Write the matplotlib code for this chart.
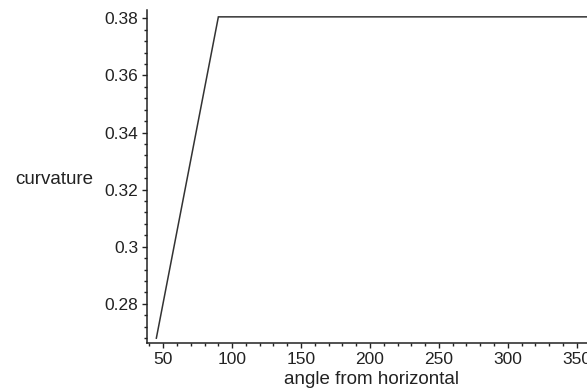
import numpy as np
import matplotlib
matplotlib.use('Agg')
import matplotlib.pyplot as plt
from matplotlib.ticker import MultipleLocator, FuncFormatter

# curvature vs. angle from horizontal
angle = [45, 90, 360]
curvature = [0.268, 0.3805, 0.3805]

x_ticks = [50, 100, 150, 200, 250, 300, 350]
y_ticks = [0.28, 0.30, 0.32, 0.34, 0.36, 0.38]

plt.rcParams['font.family'] = 'Liberation Sans'
W, H = 587, 389
fig = plt.figure(figsize=(W / 100, H / 100), dpi=100)

# axes box in pixel units (right end runs past the figure edge)
left, right, bottom, top = 146.7, 590.5, 343.3, 10.0
ax = fig.add_axes([left / W, 1 - bottom / H, (right - left) / W, (bottom - top) / H])

ax.plot(angle, curvature, color='#333333', lw=1.1, solid_joinstyle='miter')

ax.set_xlim(38, 360)
ax.set_ylim(0.2662, 0.3829)

for s in ('top', 'right'):
    ax.spines[s].set_visible(False)
for s in ('left', 'bottom'):
    ax.spines[s].set_color('#222222')
    ax.spines[s].set_linewidth(1.1)

ax.set_xticks(x_ticks)
ax.set_yticks(y_ticks)
ax.xaxis.set_minor_locator(MultipleLocator(10))
ax.yaxis.set_minor_locator(MultipleLocator(0.004))
ax.yaxis.set_major_formatter(FuncFormatter(lambda v, p: '%g' % round(v, 3)))
ax.tick_params(which='major', length=3.5, width=1.0, color='#222222',
               labelsize=12.5, pad=2.5, labelcolor='#222222')
ax.tick_params(which='minor', length=2.0, width=1.0, color='#222222')

fig.text(93 / W, 1 - 180 / H, 'curvature', ha='right', va='center',
         fontsize=13.5, color='#222222')
fig.text(371.7 / W, 1 - 380 / H, 'angle from horizontal', ha='center',
         va='center', fontsize=13.5, color='#222222')

fig.savefig('out.png', dpi=100)
